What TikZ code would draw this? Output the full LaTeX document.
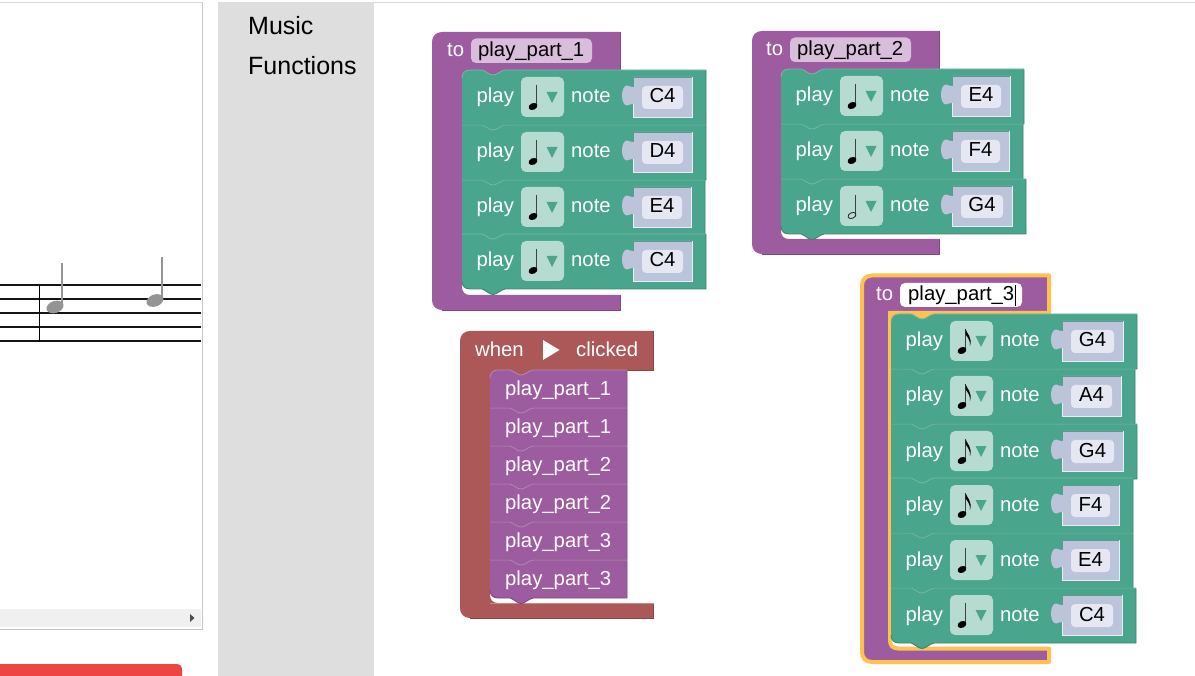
\documentclass[tikz,border=0pt]{standalone}
\usepackage{fontspec}
\setmainfont{Liberation Sans}
\definecolor{grn}{HTML}{49A58C}
\definecolor{grnL}{HTML}{72BAA5}
\definecolor{grnD}{HTML}{3A8470}
\definecolor{pur}{HTML}{9D5C9F}
\definecolor{purL}{HTML}{B587B6}
\definecolor{purD}{HTML}{7E4A7F}
\definecolor{red1}{HTML}{AD5858}
\definecolor{redL}{HTML}{C68A8A}
\definecolor{redD}{HTML}{8A4646}
\definecolor{icn}{HTML}{B6DBD1}
\definecolor{val}{HTML}{BCC4DA}
\definecolor{fld}{HTML}{E5E8F2}
\definecolor{pfld}{HTML}{D8BEDB}
\definecolor{ylw}{HTML}{FFC14F}
\definecolor{redbar}{HTML}{EF4444}
\tikzset{
  x=1pt,y=-1pt,
  lbl/.style={font=\fontsize{20.3}{20.3}\selectfont,text=white,inner sep=0pt,anchor=base west},
  fldtxt/.style={font=\fontsize{20.3}{20.3}\selectfont,text=black,inner sep=0pt,anchor=base},
  fldtxtw/.style={font=\fontsize{20.3}{20.3}\selectfont,text=black,inner sep=0pt,anchor=base west},
  menutxt/.style={font=\fontsize{25}{25}\selectfont,text=black,inner sep=0pt,anchor=base west},
  staff/.style={line width=2pt,draw=black!92},
  ghost/.style={fill=black!42},
}
% w, h, round-top, round-bottom, fill, light, dark
\newcommand{\blockshape}[7]{%
  \pgfmathsetmacro\hh{#2}\pgfmathsetmacro\hb{#2+5.5}\pgfmathsetmacro\hm{#2+1}%
  \pgfmathsetmacro\hn{#2-3}\pgfmathsetmacro\ho{#2-8}%
  \ifnum#3=1 \def\tlp{(0,8) .. controls (0,3) and (3,0) .. (8,0)}\else\def\tlp{(0,0)}\fi
  \ifnum#4=1 \def\blp{(8,\hh) .. controls (3,\hh) and (0,\hn) .. (0,\ho)}\else\def\blp{(0,\hh)}\fi
  \fill[#5] \tlp -- (20,0) .. controls (24,1) and (27,5) .. (31,5) .. controls (35,5) and (38,1) .. (43,0)
     -- (#1,0) -- (#1,\hh) -- (43,\hh) .. controls (38,\hm) and (35,\hb) .. (31,\hb) .. controls (27,\hb) and (24,\hm) .. (20,\hh)
     -- \blp -- cycle;
  \draw[#7,line width=.9pt] (#1,0.5) -- (#1,\hh) -- (43,\hh) .. controls (38,\hm) and (35,\hb) .. (31,\hb) .. controls (27,\hb) and (24,\hm) .. (20,\hh) -- \blp;
  \draw[#6,line width=.8pt] \tlp -- (20,0) .. controls (24,1) and (27,5) .. (31,5) .. controls (35,5) and (38,1) .. (43,0) -- (#1,0);
}
\newcommand{\quarternote}{%
  \draw[black!75,line width=1pt] (74.5,15) -- (74.5,36);
  \fill[black,rotate around={25:(71,36.5)}] (71,36.5) ellipse [x radius=4.6pt,y radius=3.3pt];
}
\newcommand{\eighthnote}{%
  \quarternote
  \fill[black] (74.5,15) .. controls (76,20) and (81.5,23) .. (79,32) .. controls (79.5,27) and (77,23.5) .. (74.5,20.5) -- cycle;
}
\newcommand{\halfnote}{%
  \draw[black!75,line width=.8pt] (74.5,16) -- (74.5,36);
  \draw[black!85,line width=.8pt,rotate around={25:(71,36.5)}] (71,36.5) ellipse [x radius=4.2pt,y radius=2.8pt];
}
% name, x, y, right edge, note macro, pitch, round-top, round-bottom
\newcommand{\playblk}[8]{%
  \begin{scope}[shift={(#2,#3)}]
    \pgfmathsetmacro\ww{#4-#2}\pgfmathsetmacro\vr{\ww-14}\pgfmathsetmacro\fr{\ww-23}%
    \pgfmathsetmacro\vc{(\ww-14+171)/2}%
    \blockshape{\ww}{55}{#7}{#8}{grn}{grnL}{grnD}
    \node[lbl] (#1play) at (14.5,33) {play};
    \fill[icn,rounded corners=5pt] (59,7) rectangle (102,47);
    #5
    \fill[grn] (84.5,22) -- (95.5,22) -- (90,33) -- cycle;
    \node[lbl] (#1note) at (109,33) {note};
    \fill[val] (171,7) -- (\vr,7) -- (\vr,47) -- (171,47) -- (171,34)
       .. controls (169,33) and (168,35.5) .. (165,35.5)
       .. controls (162,35.5) and (160,31) .. (160,25.5)
       .. controls (160,20) and (162,15.5) .. (165,15.5)
       .. controls (168,15.5) and (169,18) .. (171,17) -- cycle;
    \draw[grnD!70!val,line width=.6pt] (171,17) -- (171,7) -- (\vr,7);
    \draw[white!70!val,line width=.7pt] (171,34) -- (171,47) -- (\vr,47) -- (\vr,7);
    \fill[fld,rounded corners=4pt] (180,16) rectangle (\fr,39);
    \node[fldtxt] (#1val) at (\vc,33) {#6};
  \end{scope}
}
% name, x, y, part number, round-top, round-bottom
\newcommand{\callblk}[6]{%
  \begin{scope}[shift={(#2,#3)}]
    \blockshape{137}{38}{#5}{#6}{pur}{purL}{purD}
    \node[lbl] (#1) at (15,25.7) {play\_part\_#4};
  \end{scope}
}
% path options, left, top, inner left, header bottom, arm top, bottom, right
\newcommand{\cshape}[8]{%
  \pgfmathsetmacro\xa{#2+10}\pgfmathsetmacro\ya{#3+10}\pgfmathsetmacro\xb{#4+8}%
  \pgfmathsetmacro\yb{#6-8}\pgfmathsetmacro\yc{#7-10}%
  \path[#1] (#2,\ya) .. controls (#2,{#3+4}) and ({#2+4},#3) .. (\xa,#3) -- (#8,#3) -- (#8,#5) -- (#4,#5) -- (#4,\yb)
  .. controls (#4,{#6-3}) and ({#4+3},#6) .. (\xb,#6) -- (#8,#6) -- (#8,#7) -- (\xa,#7)
  .. controls ({#2+4},#7) and (#2,{#7-4}) .. (#2,\yc) -- cycle;
}
\begin{document}
\begin{tikzpicture}[x=1pt,y=-1pt]
\useasboundingbox (0,0) rectangle (1195,676);
\fill[white] (0,0) rectangle (1195,676);
% top rule and sheet panel
\draw[black!15,line width=1pt] (0,2.5) -- (203,2.5);
\draw[black!15,line width=1pt] (374,2.5) -- (1195,2.5);
\draw[black!22,line width=1pt] (202.5,2) -- (202.5,629.5) -- (0,629.5);
\fill[black!6] (0,609) rectangle (201,627);
\fill[black!70] (190,614) -- (194.5,618) -- (190,622) -- cycle;
\fill[redbar] (0,664) -- (176,664) .. controls (180,664) and (182,666) .. (182,670) -- (182,676) -- (0,676) -- cycle;
% menu panel
\fill[black!13] (218,2) rectangle (374,676);
\node[menutxt] (menuA) at (248,34.5) {Music};
\node[menutxt] (menuB) at (248,74.5) {Functions};
% staff
\foreach \yy in {285.5,299.5,313.5,327.5,341.5} \draw[staff] (0,\yy) -- (201,\yy);
\draw[black,line width=1pt] (39.5,285) -- (39.5,342);
\fill[ghost] (61.2,263) rectangle (63.2,305);
\fill[ghost,rotate around={20:(55,307)}] (55,307) ellipse [x radius=8.8pt,y radius=6pt];
\fill[ghost] (161,257) rectangle (163,297);
\fill[ghost,rotate around={20:(155,300.5)}] (155,300.5) ellipse [x radius=8.8pt,y radius=6pt];

% play_part_1
\cshape{fill=pur}{432}{32}{462}{76}{295}{310}{620.6}
\draw[purD,line width=.8pt] (620.6,32) -- (620.6,70);
\draw[purD,line width=.8pt] (620.6,295) -- (620.6,310) -- (442,310);
\node[lbl] (toA) at (447,57) {to};
\fill[pfld,rounded corners=5pt] (471,38.5) rectangle (592,63);
\node[fldtxtw] (nameA) at (478,57) {play\_part\_1};
\playblk{aA}{462}{70}{706}{\quarternote}{C4}{1}{0}
\playblk{aB}{462}{125}{706}{\quarternote}{D4}{0}{0}
\playblk{aC}{462}{180}{705}{\quarternote}{E4}{0}{0}
\playblk{aD}{462}{234}{706}{\quarternote}{C4}{0}{1}

% play_part_2
\cshape{fill=pur}{752}{31}{781}{75}{239}{254}{939.6}
\draw[purD,line width=.8pt] (939.6,31) -- (939.6,69);
\draw[purD,line width=.8pt] (939.6,239) -- (939.6,254) -- (762,254);
\node[lbl] (toB) at (766,56) {to};
\fill[pfld,rounded corners=5pt] (790,37.5) rectangle (911,62);
\node[fldtxtw] (nameB) at (797,56) {play\_part\_2};
\playblk{bA}{781}{69}{1024}{\quarternote}{E4}{1}{0}
\playblk{bB}{781}{124}{1023}{\quarternote}{F4}{0}{0}
\playblk{bC}{781}{179}{1026}{\halfnote}{G4}{0}{1}

% play_part_3
\cshape{fill=pur,draw=ylw,line width=4pt,line join=round}{862}{275.5}{890}{313}{648.5}{662}{1049}
\fill[ylw] (888,311) rectangle (940,321);
\node[lbl] (toC) at (876,300.5) {to};
\fill[white,rounded corners=5pt] (900,283) rectangle (1022,307);
\node[fldtxtw] (nameC) at (908,300.5) {play\_part\_3};
\draw[black,line width=.8pt] (1015,285) -- (1015,306);
\playblk{dA}{891}{314}{1137}{\eighthnote}{G4}{1}{0}
\playblk{dB}{891}{369}{1135}{\eighthnote}{A4}{0}{0}
\playblk{dC}{891}{424}{1137}{\eighthnote}{G4}{0}{0}
\playblk{dD}{891}{478}{1133}{\eighthnote}{F4}{0}{0}
\playblk{dE}{891}{533}{1133}{\quarternote}{E4}{0}{0}
\playblk{dF}{891}{588}{1136}{\quarternote}{C4}{0}{1}

% when clicked
\cshape{fill=red1}{460}{331}{490}{370}{603}{618}{653.6}
\fill[red1] (490,369) rectangle (540,377);
\draw[redD,line width=.8pt] (653.6,331) -- (653.6,370) -- (627,370);
\draw[redD,line width=.8pt] (653.6,603) -- (653.6,618) -- (470,618);
\draw[redL,line width=.8pt] (490,603) -- (653.6,603);
\node[lbl] (whenT) at (475,356.5) {when};
\fill[white] (543,340) -- (559.5,350) -- (543,360) -- cycle;
\node[lbl] (clickT) at (576,356.5) {clicked};
\callblk{cA}{490}{370}{1}{1}{0}
\callblk{cB}{490}{408}{1}{0}{0}
\callblk{cC}{490}{446}{2}{0}{0}
\callblk{cD}{490}{484}{2}{0}{0}
\callblk{cE}{490}{522}{3}{0}{0}
\callblk{cF}{490}{560}{3}{0}{1}
\end{tikzpicture}
\end{document}
